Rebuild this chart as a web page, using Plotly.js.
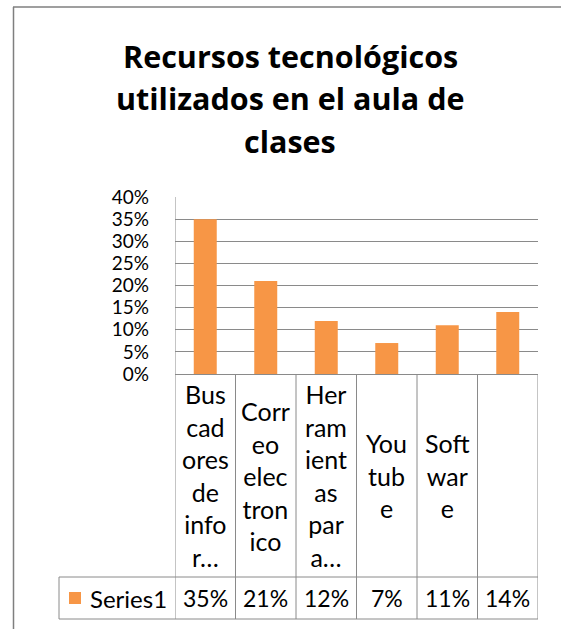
<!DOCTYPE html>
<html>
<head>
<meta charset="utf-8">
<script src="https://cdn.plot.ly/plotly-3.0.1.min.js"></script>
<style>html,body{margin:0;padding:0;background:#fff;}#chart{width:561px;height:629px;}</style>
</head>
<body>
<div id="chart"></div>
<script>
// ---- data ----
const titleLines = ["Recursos tecnológicos", "utilizados en el aula de", "clases"];
const categoryLabels = [
  "Bus<br>cad<br>ores<br>de<br>info<br>r…",
  "Corr<br>eo<br>elec<br>tron<br>ico",
  "Her<br>ram<br>ient<br>as<br>par<br>a…",
  "You<br>tub<br>e",
  "Soft<br>war<br>e",
  ""
];
const values = [0.35, 0.21, 0.12, 0.07, 0.11, 0.14];
const seriesName = "Series1";
const yTickVals = [0, 0.05, 0.10, 0.15, 0.20, 0.25, 0.30, 0.35, 0.40];

// ---- layout geometry (pixels) ----
const W = 561, H = 629;
const L = 175, R = 538, T = 197, B = 374;
const ROW1 = 577, ROW2 = 619, LEGL = 59;
const px2x = X => (X - L) / (R - L);     // paper x
const py2y = Y => (B - Y) / (B - T);     // paper y

const orange = "#F79646";
const grid = "#8a8a8a";
const FONT = "Lato, 'Open Sans', sans-serif";
const TFONT = "'Open Sans', Lato, sans-serif";
const xs = values.map((_, i) => i);
const fmt = v => Math.round(v * 100) + "%";

const shapes = [];
const line = (x0, y0, x1, y1, xref, w, c) => shapes.push({type: "line", xref: xref || "paper", yref: "paper",
  x0, y0, x1, y1, line: {color: c || grid, width: w || 1}});
// outer chart border (top & left)
line(px2x(13), py2y(7), px2x(W), py2y(7), "paper", 1.5, "#7f7f7f");
line(px2x(13.5), py2y(7), px2x(13.5), py2y(H), "paper", 1.5, "#7f7f7f");
// table horizontal lines
line(px2x(LEGL), py2y(ROW1), 1, py2y(ROW1));
line(px2x(LEGL), py2y(ROW2), 1, py2y(ROW2));
// table vertical lines at category boundaries
for (let i = 0; i <= xs.length; i++) {
  shapes.push({type: "line", xref: "x", yref: "paper", x0: i - 0.5, x1: i - 0.5,
    y0: py2y(i === 0 ? T : B), y1: py2y(ROW2), line: {color: grid, width: 1}});
}
line(px2x(LEGL), py2y(ROW1), px2x(LEGL), py2y(ROW2));
// legend key
shapes.push({type: "rect", xref: "paper", yref: "paper", x0: px2x(69), x1: px2x(81),
  y0: py2y(604), y1: py2y(592), fillcolor: orange, line: {width: 0}});

const annotations = [];
titleLines.forEach((t, k) => annotations.push({
  text: "<b>" + t + "</b>", xref: "paper", yref: "paper", x: px2x(290), y: py2y([56, 98, 141][k]),
  xanchor: "center", yanchor: "middle", showarrow: false,
  font: {family: TFONT, size: 30.5, color: "#000"}
}));
categoryLabels.forEach((t, i) => annotations.push({
  text: t, xref: "x", yref: "paper", x: xs[i], y: py2y((B + ROW1) / 2),
  xanchor: "center", yanchor: "middle", showarrow: false,
  font: {family: FONT, size: 25, color: "#000"}
}));
values.forEach((v, i) => annotations.push({
  text: fmt(v), xref: "x", yref: "paper", x: xs[i], y: py2y((ROW1 + ROW2) / 2),
  xanchor: "center", yanchor: "middle", showarrow: false,
  font: {family: FONT, size: 23, color: "#000"}
}));
annotations.push({
  text: seriesName, xref: "paper", yref: "paper", x: px2x(88), y: py2y((ROW1 + ROW2) / 2),
  xanchor: "left", yanchor: "middle", showarrow: false,
  font: {family: FONT, size: 24, color: "#000"}
});

const data = [{
  type: "bar", x: xs, y: values, name: seriesName, width: 0.38,
  marker: {color: orange, line: {width: 0}}, hoverinfo: "skip"
}];

const layout = {
  width: W, height: H, autosize: false,
  margin: {l: L, r: W - R, t: T, b: H - B, pad: 0},
  paper_bgcolor: "#fff", plot_bgcolor: "#fff",
  showlegend: false,
  xaxis: {range: [-0.5, xs.length - 0.5], showticklabels: false, showgrid: false, zeroline: false,
    showline: true, linecolor: grid, linewidth: 1, ticks: "", fixedrange: true},
  yaxis: {range: [0, 0.40], tickvals: yTickVals, tickformat: ".0%", showgrid: true, gridcolor: grid,
    gridwidth: 1, zeroline: false, showline: false, ticks: "", ticklabelstandoff: 25,
    tickfont: {family: FONT, size: 19, color: "#000"}, fixedrange: true},
  shapes, annotations
};

Plotly.newPlot("chart", data, layout, {displayModeBar: false, staticPlot: true});
</script>
</body>
</html>
